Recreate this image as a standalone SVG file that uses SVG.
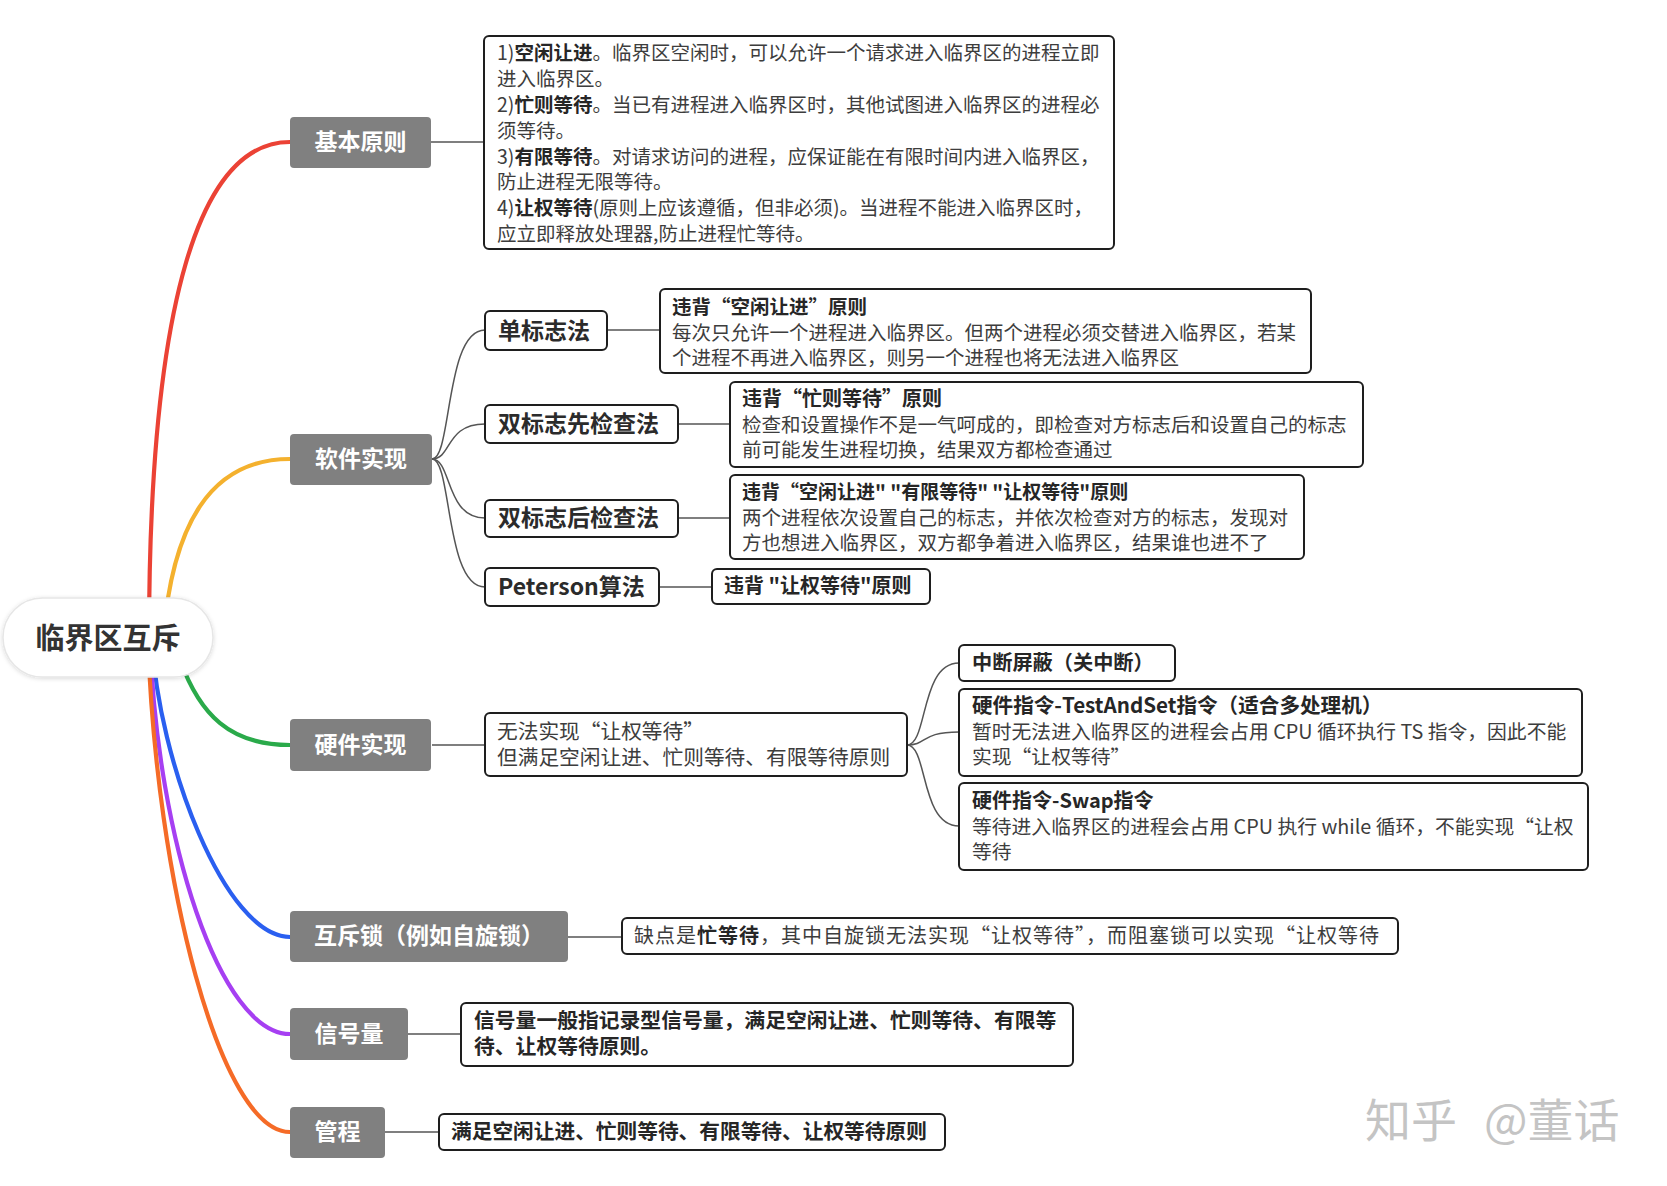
<svg xmlns="http://www.w3.org/2000/svg" width="1667" height="1186" viewBox="0 0 1667 1186">
<defs>
<style>
text { font-family: "Noto Sans CJK SC", "Noto Sans", sans-serif; }
.t { font-size: 19.5px; fill: #3d3d3d; }
.b { font-weight: 700; fill: #262626; }
.box { fill: #fff; stroke: #1e1e1e; stroke-width: 2; }
.gray { fill: #808080; }
.gt { font-size: 23px; font-weight: 700; fill: #fff; text-anchor: middle; }
.st { font-size: 23px; font-weight: 700; fill: #2b2b2b; }
.ln { fill: none; stroke: #555; stroke-width: 1.5; }
.br { fill: none; stroke-width: 4.2; stroke-linecap: round; }
</style>
<filter id="sh" x="-20%" y="-30%" width="140%" height="160%">
<feDropShadow dx="0" dy="1" stdDeviation="2" flood-color="#000" flood-opacity="0.15"/>
</filter>
</defs>
<rect width="1667" height="1186" fill="#fff"/>

<g id="connectors">
<path class="br" stroke="#eb4235" d="M149,640 C149,300 200,142 290,142"/>
<path class="br" stroke="#f4b12e" d="M163,640 C172,525 210,459 290,459"/>
<path class="br" stroke="#2aaa4a" d="M180,660 C200,715 230,745 290,745"/>
<path class="br" stroke="#2a5ff0" d="M152,640 C158,760 225,937 290,937"/>
<path class="br" stroke="#a63ff2" d="M150,640 C157,840 220,1034 290,1034"/>
<path class="br" stroke="#f56b27" d="M148,640 C156,880 220,1132 290,1132"/>

<path class="ln" d="M431,142 H484"/>
<path class="ln" d="M432,459 C452,459 445,330 485,330"/>
<path class="ln" d="M432,459 C452,459 445,424 485,424"/>
<path class="ln" d="M432,459 C452,459 445,518 485,518"/>
<path class="ln" d="M432,459 C452,459 445,587 485,587"/>
<path class="ln" d="M607,330 H660"/>
<path class="ln" d="M678,424 H730"/>
<path class="ln" d="M678,518 H730"/>
<path class="ln" d="M659,587 H712"/>
<path class="ln" d="M432,745 H485"/>
<path class="ln" d="M907,745 C928,745 920,663 959,663"/>
<path class="ln" d="M907,745 C928,745 920,732 959,732"/>
<path class="ln" d="M907,745 C928,745 920,826 959,826"/>
<path class="ln" d="M568,937 H622"/>
<path class="ln" d="M408,1034 H461"/>
<path class="ln" d="M385,1132 H439"/>
</g>

<g id="root">
<rect x="3" y="598" width="210" height="79" rx="39.5" fill="#fff" stroke="#e6e6e6" stroke-width="1.5" filter="url(#sh)"/>
<text x="108" y="649" font-size="29" font-weight="700" fill="#333" text-anchor="middle">临界区互斥</text>
</g>

<g id="n-basic">
<rect class="gray" x="290" y="117" width="141" height="51" rx="4"/>
<text class="gt" x="360.5" y="150">基本原则</text>
</g>
<g id="n-basic-text">
<rect class="box" x="484" y="36" width="630" height="213" rx="5"/>
<text class="t" x="497" y="60">1)<tspan class="b">空闲让进</tspan>。临界区空闲时，可以允许一个请求进入临界区的进程立即</text>
<text class="t" x="497" y="86">进入临界区。</text>
<text class="t" x="497" y="112">2)<tspan class="b">忙则等待</tspan>。当已有进程进入临界区时，其他试图进入临界区的进程必</text>
<text class="t" x="497" y="138">须等待。</text>
<text class="t" x="497" y="164">3)<tspan class="b">有限等待</tspan>。对请求访问的进程，应保证能在有限时间内进入临界区，</text>
<text class="t" x="497" y="189">防止进程无限等待。</text>
<text class="t" x="497" y="215">4)<tspan class="b">让权等待</tspan>(原则上应该遵循，但非必须)。当进程不能进入临界区时，</text>
<text class="t" x="497" y="241">应立即释放处理器,防止进程忙等待。</text>
</g>

<g id="n-soft">
<rect class="gray" x="290" y="434" width="142" height="51" rx="4"/>
<text class="gt" x="361" y="467">软件实现</text>
</g>
<g id="n-single">
<rect class="box" x="485" y="311" width="122" height="39" rx="5"/>
<text class="st" x="498" y="339">单标志法</text>
</g>
<g id="n-single-text">
<rect class="box" x="660" y="289" width="651" height="84" rx="5"/>
<text class="t b" x="672" y="314">违背“空闲让进”原则</text>
<text class="t" x="672" y="340">每次只允许一个进程进入临界区。但两个进程必须交替进入临界区，若某</text>
<text class="t" x="672" y="365">个进程不再进入临界区，则另一个进程也将无法进入临界区</text>
</g>
<g id="n-dual-pre">
<rect class="box" x="485" y="405" width="193" height="38" rx="5"/>
<text class="st" x="498" y="432">双标志先检查法</text>
</g>
<g id="n-dual-pre-text">
<rect class="box" x="730" y="382" width="633" height="85" rx="5"/>
<text class="t b" x="742" y="406" style="font-size:20px">违背“忙则等待”原则</text>
<text class="t" x="742" y="432">检查和设置操作不是一气呵成的，即检查对方标志后和设置自己的标志</text>
<text class="t" x="742" y="457">前可能发生进程切换，结果双方都检查通过</text>
</g>
<g id="n-dual-post">
<rect class="box" x="485" y="500" width="193" height="37" rx="5"/>
<text class="st" x="498" y="526">双标志后检查法</text>
</g>
<g id="n-dual-post-text">
<rect class="box" x="730" y="475" width="574" height="84" rx="5"/>
<text class="t b" x="742" y="499" style="font-size:19px">违背“空闲让进" "有限等待" "让权等待"原则</text>
<text class="t" x="742" y="525">两个进程依次设置自己的标志，并依次检查对方的标志，发现对</text>
<text class="t" x="742" y="550">方也想进入临界区，双方都争着进入临界区，结果谁也进不了</text>
</g>
<g id="n-peterson">
<rect class="box" x="485" y="568" width="174" height="38" rx="5"/>
<text class="st" x="498" y="595">Peterson算法</text>
</g>
<g id="n-peterson-text">
<rect class="box" x="712" y="569" width="218" height="35" rx="5"/>
<text class="t b" x="724" y="593" style="font-size:20px">违背 "让权等待"原则</text>
</g>

<g id="n-hard">
<rect class="gray" x="290" y="719" width="141" height="52" rx="4"/>
<text class="gt" x="360.5" y="753">硬件实现</text>
</g>
<g id="n-hard-text">
<rect class="box" x="485" y="713" width="422" height="63" rx="5"/>
<text class="t" x="497" y="739" style="font-size:20.7px">无法实现“让权等待”</text>
<text class="t" x="497" y="765" style="font-size:20.7px">但满足空闲让进、忙则等待、有限等待原则</text>
</g>
<g id="n-int">
<rect class="box" x="959" y="645" width="216" height="36" rx="5"/>
<text class="t b" x="972" y="670" style="font-size:20.2px">中断屏蔽（关中断）</text>
</g>
<g id="n-tsl">
<rect class="box" x="959" y="689" width="623" height="87" rx="5"/>
<text class="t b" x="972" y="713" style="font-size:20.6px">硬件指令-TestAndSet指令（适合多处理机）</text>
<text class="t" x="972" y="739" style="font-size:19.8px">暂时无法进入临界区的进程会占用 CPU 循环执行 TS 指令，因此不能</text>
<text class="t" x="972" y="764" style="font-size:19.8px">实现“让权等待”</text>
</g>
<g id="n-swap">
<rect class="box" x="959" y="783" width="629" height="87" rx="5"/>
<text class="t b" x="972" y="808" style="font-size:20px">硬件指令-Swap指令</text>
<text class="t" x="972" y="834" style="font-size:19.8px">等待进入临界区的进程会占用 CPU 执行 while 循环，不能实现“让权</text>
<text class="t" x="972" y="859" style="font-size:19.8px">等待</text>
</g>

<g id="n-lock">
<rect class="gray" x="290" y="911" width="278" height="51" rx="4"/>
<text class="gt" x="429" y="944">互斥锁（例如自旋锁）</text>
</g>
<g id="n-lock-text">
<rect class="box" x="622" y="918" width="776" height="36" rx="5"/>
<text class="t" x="634" y="943" style="font-size:20px;letter-spacing:1px">缺点是<tspan class="b">忙等待</tspan>，其中自旋锁无法实现“让权等待”，而阻塞锁可以实现“让权等待</text>
</g>

<g id="n-sem">
<rect class="gray" x="290" y="1008" width="118" height="52" rx="4"/>
<text class="gt" x="349" y="1042">信号量</text>
</g>
<g id="n-sem-text">
<rect class="box" x="461" y="1003" width="612" height="63" rx="5"/>
<text class="t b" x="474" y="1028" style="font-size:20.8px">信号量一般指记录型信号量，满足空闲让进、忙则等待、有限等</text>
<text class="t b" x="474" y="1054" style="font-size:20.8px">待、让权等待原则。</text>
</g>

<g id="n-monitor">
<rect class="gray" x="290" y="1107" width="95" height="51" rx="4"/>
<text class="gt" x="337.5" y="1140">管程</text>
</g>
<g id="n-monitor-text">
<rect class="box" x="439" y="1114" width="506" height="36" rx="5"/>
<text class="t b" x="451" y="1139" style="font-size:20.7px">满足空闲让进、忙则等待、有限等待、让权等待原则</text>
</g>

<g id="watermark">
<text x="1365" y="1137" font-size="46" fill="#c4c4c4">知乎</text>
<text x="1484" y="1137" font-size="46" fill="#c4c4c4">@董话</text>
</g>
</svg>
